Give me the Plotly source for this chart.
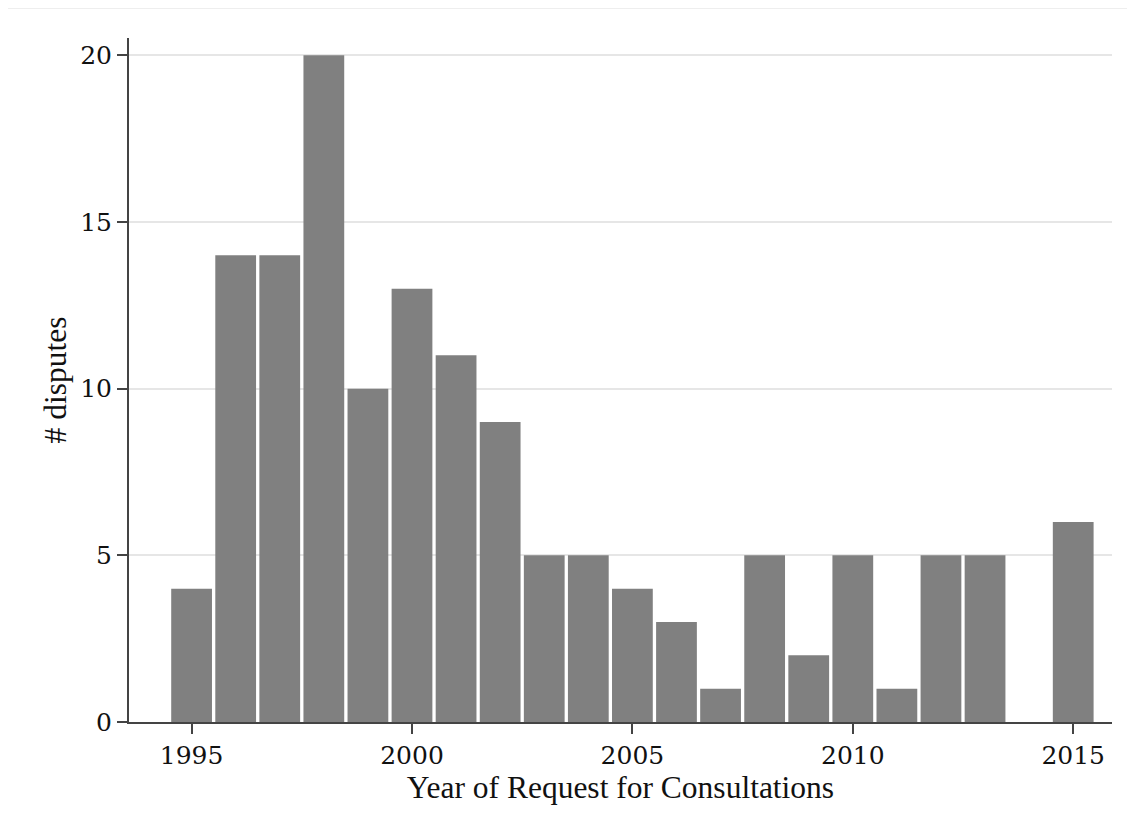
import plotly.graph_objects as go

years = [1995, 1996, 1997, 1998, 1999, 2000, 2001, 2002, 2003, 2004, 2005,
         2006, 2007, 2008, 2009, 2010, 2011, 2012, 2013, 2014, 2015]
disputes = [4, 14, 14, 20, 10, 13, 11, 9, 5, 5, 4, 3, 1, 5, 2, 5, 1, 5, 5, 0, 6]
x_ticks = [1995, 2000, 2005, 2010, 2015]
y_ticks = [0, 5, 10, 15, 20]

W, H = 1127, 821
L, R, T, B = 121, 23, 30, 107

fig = go.Figure()
fig.add_trace(go.Bar(
    x=years, y=disputes,
    marker=dict(color="#808080", line=dict(width=0)),
    hoverinfo="x+y",
))

fig.update_layout(
    width=W, height=H,
    paper_bgcolor="white", plot_bgcolor="white",
    margin=dict(l=L, r=R, t=T, b=B),
    bargap=0.075,
    showlegend=False,
    font=dict(family="DejaVu Serif", color="#111111"),
    xaxis=dict(
        range=[1993.58, 2015.88],
        tickvals=x_ticks, ticktext=[str(v) for v in x_ticks],
        ticks="outside", ticklen=10, tickwidth=1.5, tickcolor="#444444",
        showline=True, linecolor="#444444", linewidth=2,
        showgrid=False, zeroline=False,
        tickfont=dict(family="DejaVu Serif", size=25, color="#111111"),
        title=dict(text="Year of Request for Consultations", standoff=0,
                   font=dict(family="Liberation Serif", size=31.5, color="#111111")),
    ),
    yaxis=dict(
        range=[0, 20.52],
        tickvals=y_ticks, ticktext=[str(v) for v in y_ticks],
        ticks="outside", ticklen=10, tickwidth=1.5, tickcolor="#444444",
        showline=True, linecolor="#444444", linewidth=2,
        showgrid=True, gridcolor="#e6e6e6", gridwidth=1.5,
        zeroline=False,
        tickfont=dict(family="DejaVu Serif", size=25, color="#111111"),
        title=dict(text="# disputes", standoff=4,
                   font=dict(family="Liberation Serif", size=31.5, color="#111111")),
    ),
)

pw = W - L - R
fig.add_shape(type="line", xref="paper", yref="paper",
              x0=-L / pw, x1=1 + R / pw, y0=1 + (T - 0.5) / (H - T - B),
              y1=1 + (T - 0.5) / (H - T - B),
              line=dict(color="#eeeeee", width=1))

fig.write_html("out.html")
